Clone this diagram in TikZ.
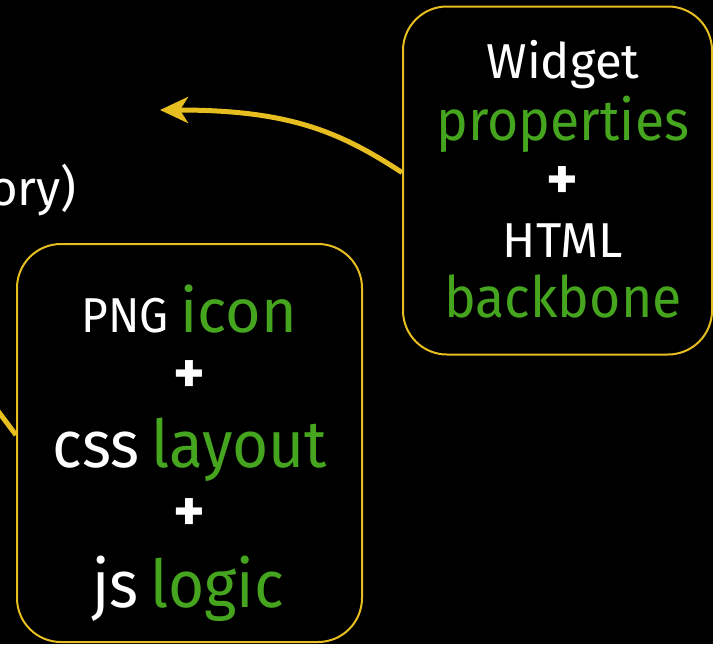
\documentclass[tikz,border=0pt]{standalone}
\usepackage{fontspec}
\setmainfont{Fira Sans}
\newfontfamily\narrowfont[FakeStretch=0.94]{Fira Sans}
\usetikzlibrary{arrows.meta}

\definecolor{wireyellow}{RGB}{230,190,32}
\definecolor{wordgreen}{RGB}{70,165,30}

\newcommand{\plainword}[1]{{\color{white}\fontsize{24.5}{29}\selectfont #1}}
\newcommand{\keyword}[1]{{\color{wordgreen}\narrowfont\fontsize{28.5}{34}\selectfont #1}}
\newcommand{\iconword}[1]{{\color{wordgreen}\fontsize{30.5}{36}\selectfont #1}}
\newcommand{\bigplain}[1]{{\color{white}\narrowfont\fontsize{33}{40}\selectfont #1}}
\newcommand{\bigkey}[1]{{\color{wordgreen}\narrowfont\fontsize{33}{40}\selectfont #1}}
\newcommand{\plussign}{{\color{white}\bfseries\fontsize{30}{36}\selectfont +}}

\tikzset{
    part/.style={draw=wireyellow, line width=1pt, rounded corners=22pt, inner sep=0pt},
    wire/.style={draw=wireyellow, line width=2.5pt},
    line/.style={anchor=base, inner sep=0pt, font=\fontsize{22}{26}\selectfont}
}

\begin{document}
\begin{tikzpicture}[x=0.5pt,y=-0.5pt]
    \clip (0,0) rectangle (713,644);
    \fill [black] (0,0) rectangle (713,644);

    \node [line, anchor=base east] (story) at (77,205) {\plainword{ory)}};

    % right box
    \node [part, minimum width=154.5pt, minimum height=174pt] (rbox) at (557.5,180.5) {};
    \node [line] (widget) at (563,78) {\plainword{Widget}};
    \node [line] (props) at (563,140) {\keyword{properties}};
    \node [inner sep=0pt] (plusa) at (562,183) {\plussign};
    \node [line] (html) at (563,257) {\plainword{HTML}};
    \node [line] (backbone) at (563,317) {\keyword{backbone}};

    % left box
    \node [part, minimum width=172.5pt, minimum height=199pt] (lbox) at (189.5,443) {};
    \node [line] (png) at (189,332) {\plainword{\narrowfont PNG} \iconword{icon}};
    \node [inner sep=0pt] (plusb) at (189,377) {\plussign};
    \node [line] (css) at (190,467) {\bigplain{css} \bigkey{layout}};
    \node [inner sep=0pt] (plusc) at (189,515) {\plussign};
    \node [line] (js) at (188,607) {\bigplain{js} \bigkey{logic}};

    \coordinate (target) at (160,110);
    \coordinate (lfree) at (-20,387);

    \draw [wire,-{Stealth[length=14pt,width=13pt,inset=4pt]}] ([yshift=4pt]rbox.west)
        .. controls (340,132) and (290,110) .. (target);
    \draw [wire] (lfree) -- ([yshift=4pt]lbox.west);
\end{tikzpicture}
\end{document}
